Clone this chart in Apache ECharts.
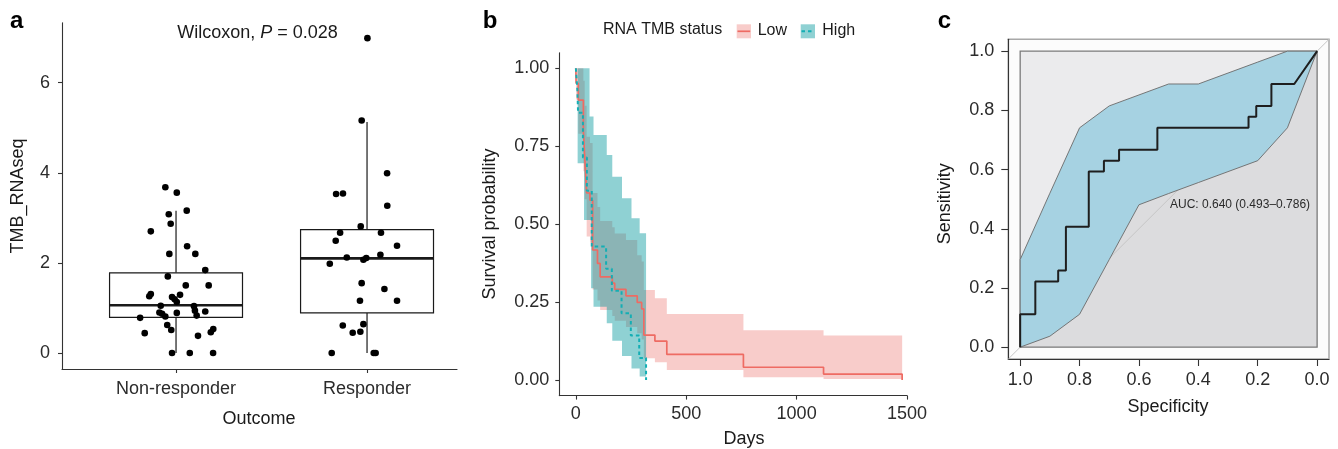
<!DOCTYPE html>
<html><head><meta charset="utf-8">
<script src="https://cdn.jsdelivr.net/npm/echarts@6/dist/echarts.min.js"></script>
<style>html,body{margin:0;padding:0;background:#fff}#c{width:1338px;height:449px}</style>
</head><body><div id="c"></div>
<script>
// ---------- Panel a : TMB_RNAseq by outcome ----------
const outcomeLabels = ['Non-responder', 'Responder'];
const tmbTicks = [0, 2, 4, 6];
// box stats: [lower whisker, Q1, median, Q3, upper whisker]
const nonResponderBox = [0, 0.79, 1.06, 1.78, 3.16];
const responderBox = [0, 0.89, 2.10, 2.74, 5.13];
// jittered points (x = group position incl. jitter, y = value)
const nonResponderX = [0.944,1.004,0.962,1.056,0.972,0.868,1.058,0.965,1.101,1.153,0.957,1.051,1.171,0.860,0.868,0.979,0.993,1.021,1.004,0.920,1.094,0.913,0.927,0.944,1.004,1.099,1.108,1.153,0.812,0.954,0.975,0.836,1.115,1.182,1.195,0.979,1.072,1.194];
const nonResponderY = [3.68,3.56,3.08,3.16,2.87,2.70,2.37,2.20,2.20,1.84,1.70,1.50,1.50,1.26,1.31,1.24,1.19,1.29,1.13,1.05,1.04,0.90,0.87,0.81,0.89,0.94,0.83,0.92,0.78,0.62,0.51,0.44,0.38,0.46,0.53,0,0,0];
const responderX = [2.002,1.972,2.105,1.838,1.874,2.106,1.967,1.859,2.073,1.836,2.157,1.894,1.996,1.981,2.070,1.805,1.972,2.091,1.963,2.157,1.873,1.981,1.925,1.965,1.815,2.035,2.045];
const responderY = [6.99,5.16,3.99,3.53,3.54,3.27,2.81,2.67,2.67,2.49,2.38,2.12,2.11,2.07,2.18,1.98,1.55,1.42,1.16,1.16,0.61,0.64,0.45,0.47,0,0,0];

// ---------- Panel b : Kaplan-Meier by RNA TMB status ----------
const dayTicks = [0, 500, 1000, 1500];
const survTicks = [0, 0.25, 0.5, 0.75, 1];
const lowT     = [0, 1, 11, 34, 40, 49, 64, 76, 98, 110, 165, 176, 227, 278, 298, 308, 358, 412, 759, 1122, 1478];
const lowS     = [1, 0.952, 0.898, 0.80, 0.716, 0.60, 0.577, 0.417, 0.374, 0.331, 0.311, 0.291, 0.270, 0.249, 0.228, 0.144, 0.125, 0.082, 0.041, 0.019, 0];
const lowLower = [1, 0.90, 0.79, 0.67, 0.58, 0.46, 0.44, 0.29, 0.255, 0.225, 0.205, 0.19, 0.17, 0.15, 0.13, 0.07, 0.057, 0.032, 0.009, 0.003, 0.003];
const lowUpper = [1, 1, 1, 0.96, 0.88, 0.78, 0.76, 0.60, 0.555, 0.51, 0.49, 0.47, 0.449, 0.40, 0.38, 0.289, 0.262, 0.212, 0.160, 0.143, 0.143];
const highT = [0, 7, 10, 32, 50, 72, 137, 163, 207, 249, 287, 318];
const highS = [1, 0.929, 0.857, 0.714, 0.607, 0.428, 0.357, 0.286, 0.214, 0.143, 0.071, 0];
const highBandT     = [0, 8, 37, 62, 69, 80, 140, 165, 209, 252, 289, 318];
const highBandLower = [1, 0.695, 0.513, 0.513, 0.294, 0.235, 0.182, 0.126, 0.077, 0.037, 0.011, 0.011];
const highBandUpper = [1, 1, 1, 0.845, 0.845, 0.786, 0.722, 0.652, 0.583, 0.519, 0.471, 0.471];

// ---------- Panel c : ROC ----------
const rocTicks = [0, 0.2, 0.4, 0.6, 0.8, 1];
const rocSpec = [1, 1, 0.949, 0.949, 0.872, 0.872, 0.846, 0.846, 0.769, 0.769, 0.718, 0.718, 0.667, 0.667, 0.538, 0.538, 0.231, 0.231, 0.205, 0.205, 0.154, 0.154, 0.077, 0];
const rocSens = [0, 0.111, 0.111, 0.222, 0.222, 0.259, 0.259, 0.407, 0.407, 0.593, 0.593, 0.630, 0.630, 0.667, 0.667, 0.741, 0.741, 0.778, 0.778, 0.815, 0.815, 0.889, 0.889, 1];
const ciSpec  = [1, 0.9, 0.8, 0.7, 0.6, 0.5, 0.4, 0.3, 0.2, 0.1, 0];
const ciUpper = [0.296, 0.52, 0.741, 0.815, 0.852, 0.889, 0.889, 0.926, 0.963, 1.0, 1.0];
const ciLower = [0, 0.037, 0.111, 0.296, 0.481, 0.519, 0.556, 0.593, 0.630, 0.741, 1.0];
const aucText = 'AUC: 0.640 (0.493\u20130.786)';

// ---------- styling ----------
const FF = '"Liberation Sans", Arial, sans-serif';
const AX = '#333333';
const TXT = '#1a1a1a';
const pink = 'rgba(235,100,95,0.33)';
const teal = 'rgba(0,150,155,0.44)';
const lowColor = '#EE6B63';
const highColor = '#14AEB4';

const zip = (a, b) => a.map((v, i) => [v, b[i]]);

function axisCommon(customVals, fmt, margin, tickLen, opts) {
  return Object.assign({
    type: 'value',
    axisLine: { show: true, onZero: false, lineStyle: { color: AX, width: 1.1 } },
    axisTick: { show: true, length: tickLen, customValues: customVals, lineStyle: { color: AX, width: 1.1 } },
    axisLabel: { customValues: customVals, formatter: fmt, margin: margin, fontSize: 18, fontFamily: FF, color: '#2b2b2b' },
    splitLine: { show: false }
  }, opts);
}

function stepBand(times, lower, upper, color) {
  return {
    type: 'custom', xAxisIndex: 1, yAxisIndex: 1, silent: true, z: 2,
    data: [[0, 0]], encode: { x: 0, y: 1 },
    renderItem: (params, api) => {
      const pts = [];
      for (let i = 0; i < times.length - 1; i++) {
        pts.push(api.coord([times[i], upper[i]]));
        pts.push(api.coord([times[i + 1], upper[i]]));
      }
      for (let i = times.length - 2; i >= 0; i--) {
        pts.push(api.coord([times[i + 1], lower[i]]));
        pts.push(api.coord([times[i], lower[i]]));
      }
      return { type: 'polygon', shape: { points: pts }, style: { fill: color } };
    }
  };
}

function txt(x, y, text, size, opts) {
  const o = opts || {};
  return {
    type: 'text', x: x, y: y, rotation: o.rot || 0, z: 100,
    style: {
      text: text, fill: o.fill || TXT,
      font: (o.weight ? o.weight + ' ' : '') + size + 'px ' + FF,
      align: o.align || 'center', verticalAlign: 'middle',
      textAlign: o.align || 'center', textVerticalAlign: 'middle'
    }
  };
}

const chart = echarts.init(document.getElementById('c'), null, { renderer: 'canvas' });
const option = {
  animation: false,
  backgroundColor: '#ffffff',
  grid: [
    { left: 62, top: 22.7, width: 395, height: 346.3 },
    { left: 559.3, top: 52.7, width: 347.7, height: 342.9 },
    { left: 1008.3, top: 39.3, width: 320.7, height: 319.7, show: true, borderColor: '#a8a8a8', borderWidth: 1.5, backgroundColor: '#fcfcfc' }
  ],
  xAxis: [
    axisCommon([1, 2], v => outcomeLabels[Math.round(v) - 1], 11, 4, { gridIndex: 0, min: 0.403, max: 2.471 }),
    axisCommon(dayTicks, v => String(v), 9, 4, { gridIndex: 1, min: -75, max: 1500 }),
    axisCommon(rocTicks, v => v.toFixed(1), 12.5, 7, { gridIndex: 2, min: -0.04, max: 1.04, inverse: true })
  ],
  yAxis: [
    axisCommon(tmbTicks, v => String(v), 12, 4, { gridIndex: 0, min: -0.356, max: 7.333 }),
    axisCommon(survTicks, v => v.toFixed(2), 10, 4, { gridIndex: 1, min: -0.05, max: 1.05 }),
    axisCommon(rocTicks, v => v.toFixed(1), 14, 7, { gridIndex: 2, min: -0.04, max: 1.04 })
  ],
  series: [
    // ----- panel a -----
    {
      type: 'custom', xAxisIndex: 0, yAxisIndex: 0, silent: true, z: 2,
      data: [[1].concat(nonResponderBox), [2].concat(responderBox)],
      encode: { x: 0, y: [1, 2, 3, 4, 5] },
      renderItem: (params, api) => {
        const x = api.value(0), lo = api.value(1), q1 = api.value(2), med = api.value(3), q3 = api.value(4), hi = api.value(5);
        const hw = 0.348;
        const c = v => api.coord([x, v]);
        const tl = api.coord([x - hw, q3]), br = api.coord([x + hw, q1]);
        const ml = api.coord([x - hw, med]), mr = api.coord([x + hw, med]);
        const st = { stroke: '#1a1a1a', lineWidth: 1.2 };
        return { type: 'group', children: [
          { type: 'line', shape: { x1: c(q3)[0], y1: c(q3)[1], x2: c(hi)[0], y2: c(hi)[1] }, style: st },
          { type: 'line', shape: { x1: c(lo)[0], y1: c(lo)[1], x2: c(q1)[0], y2: c(q1)[1] }, style: st },
          { type: 'rect', shape: { x: tl[0], y: tl[1], width: br[0] - tl[0], height: br[1] - tl[1] }, style: { fill: '#fff', stroke: '#1a1a1a', lineWidth: 1.2 } },
          { type: 'line', shape: { x1: ml[0], y1: ml[1], x2: mr[0], y2: mr[1] }, style: { stroke: '#1a1a1a', lineWidth: 2.6 } }
        ] };
      }
    },
    {
      type: 'scatter', xAxisIndex: 0, yAxisIndex: 0, z: 3, silent: true,
      symbol: 'circle', symbolSize: 6.6, itemStyle: { color: '#000', opacity: 1 },
      data: zip(nonResponderX, nonResponderY).concat(zip(responderX, responderY))
    },
    // ----- panel b -----
    stepBand(lowT, lowLower, lowUpper, pink),
    stepBand(highBandT, highBandLower, highBandUpper, teal),
    {
      type: 'line', xAxisIndex: 1, yAxisIndex: 1, step: 'end', showSymbol: false, silent: true, z: 4,
      lineStyle: { color: lowColor, width: 1.7 }, data: zip(lowT, lowS)
    },
    {
      type: 'line', xAxisIndex: 1, yAxisIndex: 1, step: 'end', showSymbol: false, silent: true, z: 5,
      lineStyle: { color: highColor, width: 2, type: [3.5, 3] }, data: zip(highT, highS)
    },
    // ----- panel c -----
    {
      type: 'custom', xAxisIndex: 2, yAxisIndex: 2, silent: true, z: 2,
      data: [[0, 0]], encode: { x: 0, y: 1 },
      renderItem: (params, api) => {
        const sq = [[1, 0], [1, 1], [0, 1], [0, 0]].map(p => api.coord(p));
        const auc = zip(rocSpec, rocSens).concat([[0, 0]]).map(p => api.coord(p));
        const d1 = api.coord([1.04, -0.04]), d2 = api.coord([-0.04, 1.04]);
        return { type: 'group', children: [
          { type: 'polygon', shape: { points: sq }, style: { fill: '#ebebed' } },
          { type: 'polygon', shape: { points: auc }, style: { fill: '#dcdcde' } },
          { type: 'polygon', shape: { points: sq }, style: { fill: null, stroke: '#7a7a7a', lineWidth: 1.3 } },
          { type: 'line', shape: { x1: d1[0], y1: d1[1], x2: d2[0], y2: d2[1] }, style: { stroke: '#c6c6c6', lineWidth: 1 } }
        ] };
      }
    },
    {
      type: 'custom', xAxisIndex: 2, yAxisIndex: 2, silent: true, z: 3,
      data: [[0, 0]], encode: { x: 0, y: 1 },
      renderItem: (params, api) => {
        const pts = zip(ciSpec, ciUpper).concat(zip(ciSpec, ciLower).reverse()).map(p => api.coord(p));
        return { type: 'polygon', shape: { points: pts }, style: { fill: '#a6d2e2', stroke: '#6a6a6a', lineWidth: 0.9 } };
      }
    },
    {
      type: 'line', xAxisIndex: 2, yAxisIndex: 2, showSymbol: false, silent: true, z: 4,
      lineStyle: { color: '#1e1e1e', width: 2 }, data: zip(rocSpec, rocSens)
    }
  ],
  graphic: [
    txt(10, 21, 'a', 24, { weight: 'bold', align: 'left', fill: '#000' }),
    txt(482.7, 21, 'b', 24, { weight: 'bold', align: 'left', fill: '#000' }),
    txt(937.7, 21, 'c', 24, { weight: 'bold', align: 'left', fill: '#000' }),
    {
      type: 'text', x: 257.5, y: 32.7, z: 100,
      style: {
        text: '{n|Wilcoxon, }{i|P}{n| = 0.028}',
        align: 'center', verticalAlign: 'middle', textAlign: 'center', textVerticalAlign: 'middle',
        rich: {
          n: { fontSize: 18, fontFamily: FF, fill: TXT },
          i: { fontSize: 18, fontFamily: FF, fontStyle: 'italic', fill: TXT }
        }
      }
    },
    txt(18.3, 196, 'TMB_RNAseq', 18, { rot: Math.PI / 2 }),
    txt(259, 419.5, 'Outcome', 18),
    txt(490.5, 224, 'Survival probability', 18, { rot: Math.PI / 2 }),
    txt(744, 439, 'Days', 18),
    txt(603, 29.8, 'RNA TMB status', 16, { align: 'left' }),
    { type: 'rect', shape: { x: 736.7, y: 24.3, width: 14.3, height: 14 }, style: { fill: pink } },
    { type: 'line', shape: { x1: 737.5, y1: 31.3, x2: 750.2, y2: 31.3 }, style: { stroke: lowColor, lineWidth: 1.7 } },
    txt(757.7, 30.5, 'Low', 16, { align: 'left' }),
    { type: 'rect', shape: { x: 800.7, y: 24.3, width: 14.3, height: 14 }, style: { fill: teal } },
    { type: 'line', shape: { x1: 801.5, y1: 31.3, x2: 814.5, y2: 31.3 }, style: { stroke: highColor, lineWidth: 2, lineDash: [3.5, 3] } },
    txt(822.3, 30.5, 'High', 16, { align: 'left' }),
    txt(945, 203.8, 'Sensitivity', 18, { rot: Math.PI / 2 }),
    txt(1168, 406.7, 'Specificity', 18),
    txt(1170, 204.3, aucText, 12, { align: 'left', fill: '#2a2a2a' })
  ]
};
chart.setOption(option);
</script>
</body></html>
